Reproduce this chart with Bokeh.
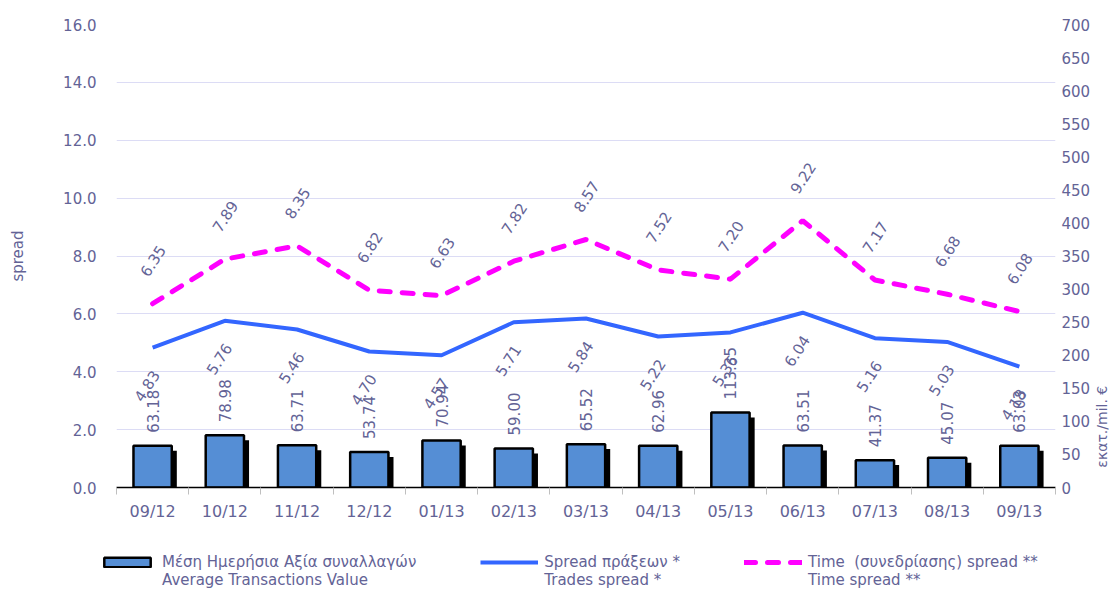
import math
from bokeh.plotting import figure
from bokeh.layouts import row, column
from bokeh.models import (ColumnDataSource, Range1d, LinearAxis, FixedTicker, Legend,
                          LegendItem, LabelSet, NumeralTickFormatter)
from bokeh.transform import dodge
from bokeh.core.properties import value
from bokeh.embed import file_html
from bokeh.resources import INLINE

# ---------------- data ----------------
months = ["09/12", "10/12", "11/12", "12/12", "01/13", "02/13", "03/13",
          "04/13", "05/13", "06/13", "07/13", "08/13", "09/13"]
avg_value = [63.18, 78.98, 63.71, 53.74, 70.94, 59.00, 65.52, 62.96, 113.35,
             63.51, 41.37, 45.07, 63.03]
trades_spread = [4.83, 5.76, 5.46, 4.70, 4.57, 5.71, 5.84, 5.22, 5.36, 6.04,
                 5.16, 5.03, 4.18]
time_spread = [6.35, 7.89, 8.35, 6.82, 6.63, 7.82, 8.57, 7.52, 7.20, 9.22,
               7.17, 6.68, 6.08]
left_ticks = [0, 2, 4, 6, 8, 10, 12, 14, 16]
right_ticks = list(range(0, 701, 50))

legend_bar = "Μέση Ημερήσια Αξία συναλλαγών\nAverage Transactions Value"
legend_trades = "Spread πράξεων *\nTrades spread *"
legend_time = "Time  (συνεδρίασης) spread **\nTime spread **"
left_label = "spread"
right_label = "εκατ./mil. €"

# ---------------- style ----------------
FONT = "DejaVu Sans"
TXT = "#636396"
GRID = "#DCDCF5"
BAR = "#558ED5"
BLUE = "#3366FF"
MAGENTA = "#FF00FF"

n = len(months)
xs = [i + 0.5 for i in range(n)]
src = ColumnDataSource(dict(
    x=xs, aval=avg_value, trades=trades_spread, time=time_spread,
    aval_txt=[f"{v:.2f}" for v in avg_value],
    trades_txt=[f"{v:.2f}" for v in trades_spread],
    time_txt=[f"{v:.2f}" for v in time_spread],
))

MAIN_W = 1093
MAIN_H = 533
p = figure(width=MAIN_W, height=MAIN_H, output_backend="svg", toolbar_location=None,
           x_range=Range1d(0, n), y_range=Range1d(0, 16),
           min_border_left=116, min_border_right=36, min_border_top=24,
           min_border_bottom=46)
p.outline_line_color = None
p.extra_y_ranges = {"val": Range1d(0, 700)}

# grid
p.xgrid.grid_line_color = None
p.ygrid.ticker = FixedTicker(ticks=left_ticks)
p.ygrid.grid_line_color = GRID
p.ygrid.grid_line_width = 1

# left axis
ya = p.yaxis[0]
ya.ticker = FixedTicker(ticks=left_ticks)
ya.formatter = NumeralTickFormatter(format="0.0")
ya.axis_line_color = None
ya.major_tick_line_color = None
ya.minor_tick_line_color = None
ya.major_tick_out = 0
ya.major_tick_in = 0
ya.major_label_standoff = 20
ya.major_label_text_font = FONT
ya.major_label_text_font_size = "15px"
ya.major_label_text_color = TXT
ya.axis_label = left_label
ya.axis_label_text_font = FONT
ya.axis_label_text_font_size = "15px"
ya.axis_label_text_font_style = "normal"
ya.axis_label_text_color = TXT
ya.axis_label_standoff = 33

# right axis
ra = LinearAxis(y_range_name="val", ticker=FixedTicker(ticks=right_ticks))
ra.axis_line_color = None
ra.major_tick_line_color = None
ra.minor_tick_line_color = None
ra.major_tick_out = 0
ra.major_tick_in = 0
ra.major_label_standoff = 6
ra.major_label_text_font = FONT
ra.major_label_text_font_size = "15px"
ra.major_label_text_color = TXT
p.add_layout(ra, "right")

# x axis
xa = p.xaxis[0]
xa.ticker = FixedTicker(ticks=xs, minor_ticks=list(range(n + 1)))
xa.major_label_overrides = {x: m for x, m in zip(xs, months)}
xa.axis_line_color = "black"
xa.axis_line_width = 1.5
xa.major_tick_line_color = None
xa.major_tick_out = 0
xa.major_tick_in = 0
xa.minor_tick_line_color = "#BFBFBF"
xa.minor_tick_out = 7
xa.minor_tick_in = 0
xa.major_label_standoff = 7
xa.major_label_text_font = FONT
xa.major_label_text_font_size = "16px"
xa.major_label_text_color = TXT

# bars with shadow
p.vbar(x=dodge("x", 0.07), top=dodge("aval", -7.5), bottom=0, width=0.53,
       source=src, y_range_name="val", fill_color="black", line_color=None)
p.vbar(x="x", top="aval", bottom=0, width=0.53, source=src,
       y_range_name="val", fill_color=BAR, line_color="black", line_width=2.5)

# lines
p.line("x", "trades", source=src, line_color=BLUE, line_width=4)
p.line("x", "time", source=src, line_color=MAGENTA, line_width=5,
       line_dash="11 12", line_cap="round")

# data labels
ang = math.radians(57)
p.add_layout(LabelSet(x="x", y="aval", text="aval_txt", source=src,
                      y_range_name="val", angle=math.pi / 2, text_align="left",
                      text_baseline="middle", y_offset=13,
                      text_font=value(FONT), text_font_size="15px",
                      text_color=TXT))
p.add_layout(LabelSet(x="x", y="trades", text="trades_txt", source=src,
                      angle=ang, text_align="center", text_baseline="middle",
                      y_offset=-38, x_offset=-6, text_font=value(FONT),
                      text_font_size="15px", text_color=TXT))
p.add_layout(LabelSet(x="x", y="time", text="time_txt", source=src,
                      angle=ang, text_align="center", text_baseline="middle",
                      y_offset=43, x_offset=0, text_font=value(FONT),
                      text_font_size="15px", text_color=TXT))

# narrow strip on the right carrying the right axis title (reads upward)
side = figure(width=16, height=MAIN_H, output_backend="svg", toolbar_location=None,
              x_range=Range1d(0, 1), y_range=Range1d(0, MAIN_H),
              x_axis_type=None, y_axis_type=None,
              min_border_left=0, min_border_right=0, min_border_top=0,
              min_border_bottom=0)
side.outline_line_color = None
side.grid.visible = False
side.text(x=[0.5], y=[70], text=[right_label], angle=math.pi / 2,
          text_align="center", text_baseline="middle",
          text_font=value(FONT), text_font_size="14px", text_color=TXT)

# legend strip below the chart
LEG_H = 56
lf = figure(width=MAIN_W + 16, height=LEG_H, output_backend="svg",
            toolbar_location=None, x_range=Range1d(0, 1), y_range=Range1d(0, 1),
            x_axis_type=None, y_axis_type=None,
            min_border_left=0, min_border_right=0, min_border_top=0,
            min_border_bottom=0)
lf.outline_line_color = None
lf.grid.visible = False
# key glyphs only: NaN coordinates, so nothing but the legend keys is drawn
nan = float("nan")
keys = ColumnDataSource(dict(x=[nan, nan], y=[nan, nan]))
k_bar = lf.vbar(x="x", top="y", bottom=nan, width=0.1, source=keys,
                fill_color=BAR, line_color="black", line_width=2.5)
k_tr = lf.line("x", "y", source=keys, line_color=BLUE, line_width=4)
k_ti = lf.line("x", "y", source=keys, line_color=MAGENTA, line_width=5,
               line_dash="11 12", line_cap="round")
# a leading blank line centres each key on the first text line
legend = Legend(items=[LegendItem(label="\n" + legend_bar, renderers=[k_bar]),
                       LegendItem(label="\n" + legend_trades, renderers=[k_tr]),
                       LegendItem(label="\n" + legend_time, renderers=[k_ti])],
                orientation="horizontal", location=(98, 0),
                padding=0, spacing=64, margin=0, label_standoff=6,
                glyph_width=58, glyph_height=12,
                label_text_font=FONT, label_text_font_size="15px",
                label_text_line_height=1.4,
                label_text_color=TXT, border_line_color=None,
                background_fill_alpha=0)
lf.add_layout(legend, "center")

open("out.html", "w").write(file_html(column(row(p, side), lf), INLINE))
